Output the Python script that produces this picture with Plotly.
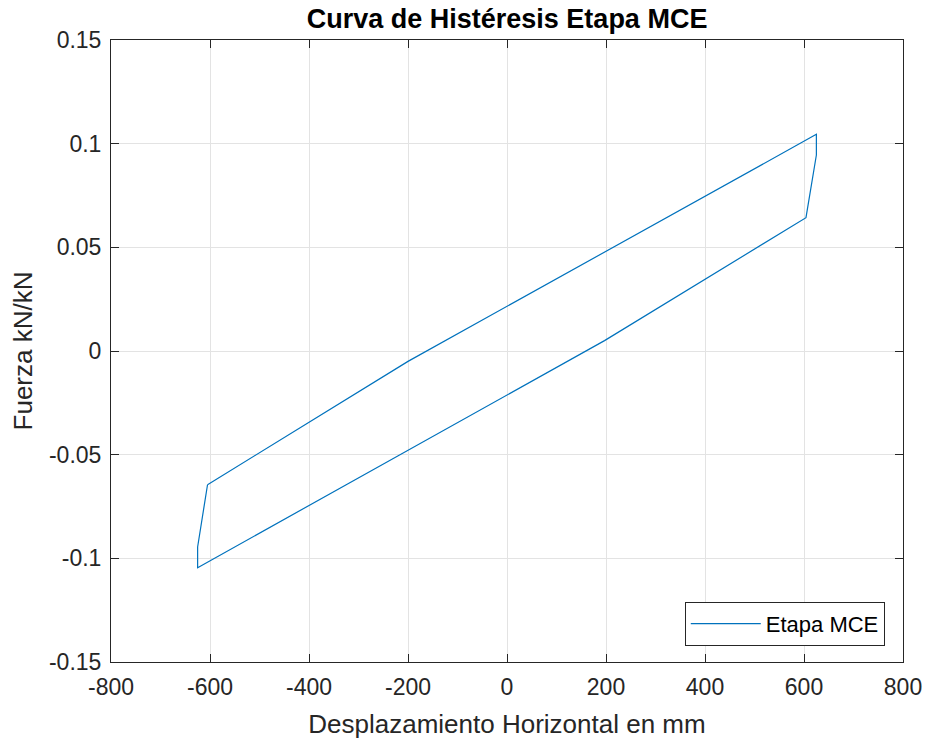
import plotly.graph_objects as go

# Hysteresis loop vertices (displacement in mm, normalized force kN/kN)
desplazamiento = [-605, -200, 625, 625, 604, 197, -625, -625, -605]
fuerza = [-0.0645, -0.005, 0.1045, 0.0945, 0.0643, 0.005, -0.1045, -0.0945, -0.0645]

x_ticks = [-800, -600, -400, -200, 0, 200, 400, 600, 800]
x_labels = ["-800", "-600", "-400", "-200", "0", "200", "400", "600", "800"]
y_ticks = [-0.15, -0.1, -0.05, 0, 0.05, 0.1, 0.15]
y_labels = ["-0.15", "-0.1", "-0.05", "0", "0.05", "0.1", "0.15"]

FONT = "Liberation Sans, Arial, sans-serif"
AX = "#262626"

fig = go.Figure()
fig.add_trace(go.Scatter(
    x=desplazamiento, y=fuerza, mode="lines", name="Etapa MCE",
    line=dict(color="#0072BD", width=1.2),
))

axis_common = dict(
    showline=True, linecolor=AX, linewidth=1, mirror="ticks",
    ticks="inside", ticklen=8, tickcolor=AX, tickwidth=1,
    showgrid=True, gridcolor="#e3e3e3", gridwidth=1,
    zeroline=False, automargin=False,
    tickfont=dict(family=FONT, size=23, color=AX),
)

fig.update_layout(
    width=927, height=742,
    margin=dict(l=111, r=24, t=40, b=80),
    paper_bgcolor="white", plot_bgcolor="white",
    title=dict(text="<b>Curva de Histéresis Etapa MCE</b>", x=0.547, xanchor="center",
               y=0.975, yanchor="middle",
               font=dict(family=FONT, size=27, color="black")),
    xaxis=dict(range=[-800, 800], tickvals=x_ticks, ticktext=x_labels,
               ticklabelstandoff=4,
               title=dict(text="Desplazamiento Horizontal en mm",
                          font=dict(family=FONT, size=26, color=AX), standoff=16),
               **axis_common),
    yaxis=dict(range=[-0.15, 0.15], tickvals=y_ticks, ticktext=y_labels,
               ticklabelstandoff=4,
               title=dict(text="Fuerza kN/kN",
                          font=dict(family=FONT, size=26, color=AX), standoff=8),
               **axis_common),
    legend=dict(x=0.977, y=0.026, xanchor="right", yanchor="bottom",
                bgcolor="white", bordercolor=AX, borderwidth=1, itemwidth=70,
                tracegroupgap=0,
                font=dict(family=FONT, size=22, color="black")),
    showlegend=True,
)

fig.write_html("out.html")
